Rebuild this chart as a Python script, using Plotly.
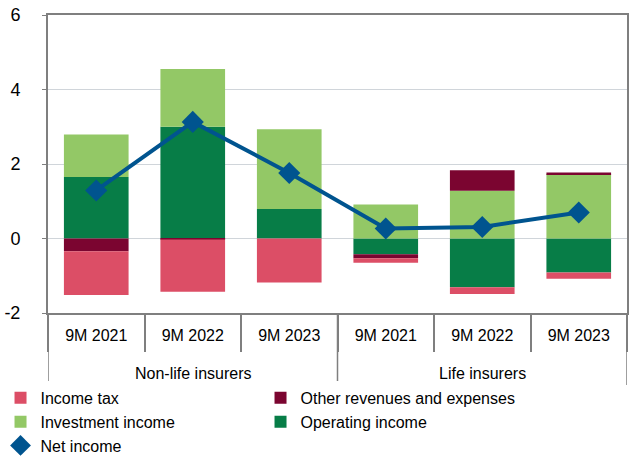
import plotly.graph_objects as go

groups = ["Non-life insurers", "Life insurers"]
periods = ["9M 2021", "9M 2022", "9M 2023"] * 2
y_ticks = [-2, 0, 2, 4, 6]
y_tick_labels = ["-2", "0", "2", "4", "6"]

operating_income = [1.65, 3.00, 0.79, -0.42, -1.31, -0.91]
investment_income = [1.14, 1.55, 2.14, 0.91, 1.28, 1.73]
other_rev_exp = [-0.34, -0.03, 0.0, -0.11, 0.55, 0.04]
income_tax = [-1.18, -1.40, -1.18, -0.12, -0.18, -0.17]
net_income = [1.29, 3.13, 1.76, 0.27, 0.31, 0.70]

x = list(range(len(periods)))
font = "Liberation Sans, Arial, sans-serif"
axis_grey = "#7f7f7f"
blue = "#00548f"

fig = go.Figure()

# stacking order: operating closest to zero, then investment / other / tax
bars = [
    ("Operating income", operating_income, "#077d47", 4),
    ("Investment income", investment_income, "#93c866", 3),
    ("Other revenues and expenses", other_rev_exp, "#7b0530", 2),
    ("Income tax", income_tax, "#dc4e66", 1),
]
for name, vals, color, rank in bars:
    fig.add_trace(go.Bar(
        x=x, y=vals, name=name,
        marker=dict(color=color, line=dict(width=0)),
        legendrank=rank,
    ))

# net income: line without legend entry, diamonds with legend entry
fig.add_trace(go.Scatter(
    x=x, y=net_income, mode="lines", showlegend=False,
    line=dict(color=blue, width=4), hoverinfo="skip",
))
fig.add_trace(go.Scatter(
    x=x, y=net_income, name="Net income", mode="markers",
    marker=dict(symbol="diamond", size=17, color=blue),
    legendrank=5,
))

# group dividers under the axis and group labels
drop = -0.242
for xb in [-0.5, 2.5, 5.5]:
    fig.add_shape(type="line", xref="x", yref="paper",
                  x0=xb, x1=xb, y0=0, y1=drop,
                  line=dict(color=axis_grey, width=1.5))
for i, g in enumerate(groups):
    fig.add_annotation(x=1 + 3 * i, y=-0.202, xref="x", yref="paper",
                       text=g, showarrow=False, yanchor="middle",
                       font=dict(size=16, color="black"))

fig.update_layout(
    width=639, height=457,
    barmode="relative",
    bargap=0.33,
    plot_bgcolor="white",
    paper_bgcolor="white",
    font=dict(family=font, size=16, color="black"),
    margin=dict(l=48, r=12, t=15, b=144, autoexpand=False),
    legend=dict(
        orientation="h",
        x=-0.082, y=-0.228,
        xanchor="left", yanchor="top",
        entrywidth=215,
        font=dict(size=16),
        itemwidth=30,
        tracegroupgap=0,
    ),
    xaxis=dict(
        range=[-0.5, 5.5],
        tickmode="array", tickvals=x, ticktext=periods,
        showline=True, linecolor=axis_grey, linewidth=2, mirror=True,
        ticks="", ticklabelstandoff=7,
        showgrid=False, zeroline=False,
        minor=dict(tickmode="linear", tick0=-0.5, dtick=1,
                   ticks="outside", ticklen=37, tickcolor=axis_grey,
                   tickwidth=1.5, showgrid=False),
        tickfont=dict(size=16),
        automargin=False,
    ),
    yaxis=dict(
        range=[-2, 6],
        tickmode="array", tickvals=y_ticks, ticktext=y_tick_labels,
        showline=True, linecolor=axis_grey, linewidth=2, mirror=True,
        ticks="outside", ticklen=4, tickcolor=axis_grey,
        ticklabelstandoff=18,
        showgrid=True, gridcolor="#d0d5da", gridwidth=1,
        zeroline=True, zerolinecolor="#d0d5da", zerolinewidth=1,
        tickfont=dict(size=18),
        automargin=False,
    ),
)

# drop the default 8px page margin so the figure fills the window
fig.write_html("out.html", config={"displayModeBar": False},
               post_script="document.body.style.margin='0';")
